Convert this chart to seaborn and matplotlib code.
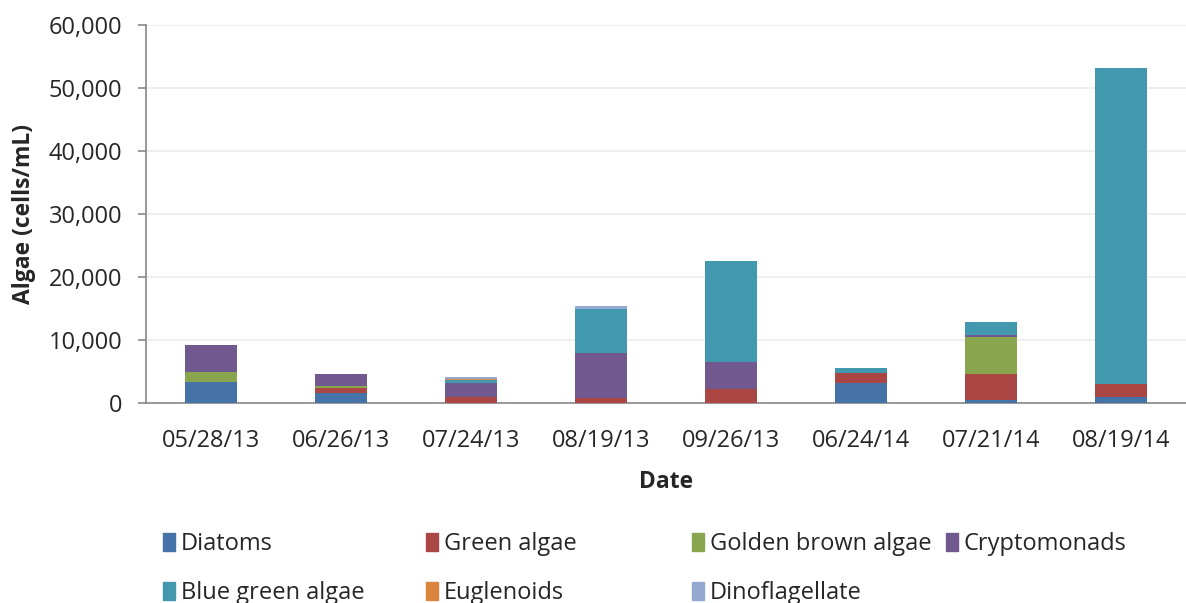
import numpy as np
import seaborn as sns
import matplotlib.pyplot as plt
from matplotlib.ticker import FuncFormatter, FixedLocator
from matplotlib.patches import Patch

dates = ["05/28/13", "06/26/13", "07/24/13", "08/19/13",
         "09/26/13", "06/24/14", "07/21/14", "08/19/14"]
diatoms = [3300, 1650, 0, 0, 0, 3100, 400, 900]
green_algae = [0, 800, 1000, 800, 2200, 1600, 4200, 2050]
golden_brown = [1600, 300, 0, 0, 0, 0, 5900, 0]
cryptomonads = [4300, 1900, 2150, 7100, 4300, 0, 300, 0]
blue_green = [0, 0, 550, 7000, 16100, 800, 2000, 50300]
euglenoids = [0, 0, 150, 0, 0, 0, 80, 0]
dinoflagellate = [0, 0, 200, 500, 0, 0, 0, 0]

series = [
    ("Diatoms", diatoms, "#4572A7"),
    ("Green algae", green_algae, "#AA4643"),
    ("Golden brown algae", golden_brown, "#89A54E"),
    ("Cryptomonads", cryptomonads, "#71588F"),
    ("Blue green algae", blue_green, "#4198AF"),
    ("Euglenoids", euglenoids, "#DB843D"),
    ("Dinoflagellate", dinoflagellate, "#93A9CF"),
]

sns.set_style("white")
plt.rcParams['font.family'] = ['Open Sans', 'DejaVu Sans']

fig = plt.figure(figsize=(11.86, 6.03), dpi=100)
ax = fig.add_axes([146 / 1186, 200 / 603, 1040 / 1186, 378 / 603])

bottom = np.zeros(len(dates))
for name, vals, col in series:
    sns.barplot(x=dates, y=vals, bottom=bottom, color=col, width=0.4,
                saturation=1, ax=ax, linewidth=0, zorder=3)
    bottom = bottom + np.array(vals)

ax.set_ylim(0, 60000)
ax.set_xlim(-0.5, len(dates) - 0.5)
ax.set_yticks(range(0, 60001, 10000))
ax.yaxis.set_major_formatter(FuncFormatter(lambda v, p: f"{int(v):,}"))
ax.grid(axis="y", color="#efefef", linewidth=1.5, zorder=0)
ax.set_axisbelow(True)

ax.xaxis.set_minor_locator(FixedLocator(np.arange(-0.5, len(dates), 1)))
ax.tick_params(axis="x", which="major", length=0, pad=19, labelsize=17)
ax.tick_params(axis="x", which="minor", length=6, width=1.2, color="#888888")
ax.tick_params(axis="y", length=6, width=1.2, color="#888888", pad=11, labelsize=17, left=True)

for s in ["top", "right"]:
    ax.spines[s].set_visible(False)
for s in ["left", "bottom"]:
    ax.spines[s].set_color("#888888")
    ax.spines[s].set_linewidth(1.2)

ax.set_xlabel("Date", fontsize=16.5, fontweight="bold", labelpad=12)
ax.set_ylabel("Algae (cells/mL)", fontsize=16.5, fontweight="bold", labelpad=9)

# legend laid out like the Excel one: 4 fixed columns, filled row by row
col_x = [163, 426, 692, 946]
for c in range(4):
    items = [series[i] for i in (c, c + 4) if i < len(series)]
    handles = [Patch(color=col, label=n) for n, v, col in items]
    fig.legend(handles=handles, loc="upper left",
               bbox_to_anchor=(col_x[c] / 1186, 1 - 532 / 603), frameon=False,
               fontsize=17, handlelength=0.5, handleheight=0.8, handletextpad=0.25,
               labelspacing=1.07, borderpad=0, borderaxespad=0)

fig.savefig("out.png", dpi=100)
